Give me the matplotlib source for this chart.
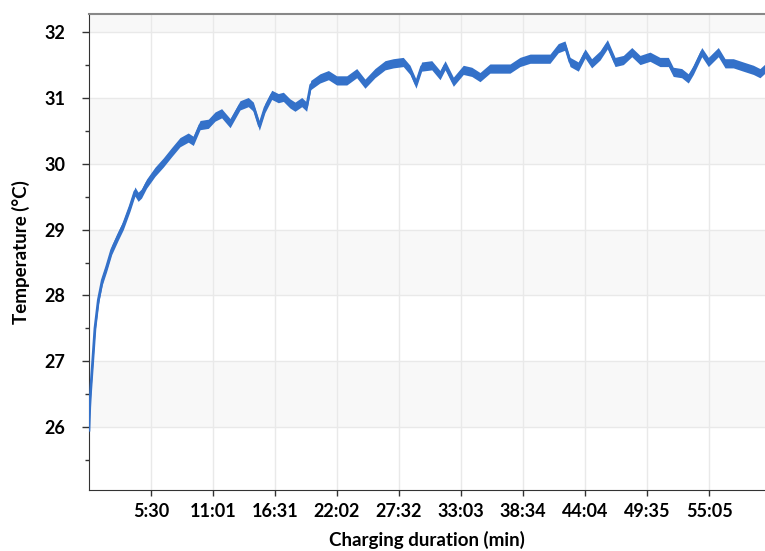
import numpy as np
import matplotlib.pyplot as plt
from matplotlib.ticker import MultipleLocator

# temperature trace (seconds, deg C)
time_s = [0, 4, 9, 20, 32, 50, 71, 94, 121, 156,
          183, 219, 245, 262, 280, 307, 352, 396, 441, 485,
          529, 556, 592, 636, 672, 707, 752, 805, 849, 876,
          908, 938, 974, 1009, 1036, 1071, 1098, 1134, 1160, 1182,
          1231, 1276, 1320, 1374, 1427, 1471, 1524, 1578, 1622, 1675,
          1711, 1743, 1773, 1827, 1871, 1898, 1942, 1995, 2040, 2084,
          2137, 2191, 2244, 2297, 2351, 2404, 2457, 2501, 2537, 2564,
          2608, 2644, 2679, 2724, 2763, 2804, 2848, 2893, 2937, 2990,
          3043, 3088, 3114, 3159, 3194, 3221, 3266, 3301, 3354, 3390,
          3434, 3487, 3541, 3576, 3603]
temp_c = [25.95, 26.3, 26.55, 27.0, 27.5, 27.93, 28.23, 28.43, 28.69, 28.91,
          29.07, 29.35, 29.58, 29.5, 29.55, 29.7, 29.88, 30.02, 30.18, 30.33,
          30.4, 30.35, 30.59, 30.61, 30.72, 30.77, 30.62, 30.89, 30.94, 30.87,
          30.58, 30.85, 31.05, 31.0, 31.02, 30.92, 30.87, 30.94, 30.87, 31.2,
          31.3, 31.35, 31.27, 31.27, 31.38, 31.22, 31.38, 31.5, 31.53, 31.55,
          31.43, 31.22, 31.48, 31.5, 31.35, 31.5, 31.25, 31.43, 31.40, 31.32,
          31.45, 31.45, 31.45, 31.55, 31.6, 31.6, 31.6, 31.76, 31.8, 31.55,
          31.48, 31.68, 31.53, 31.65, 31.82, 31.55, 31.58, 31.7, 31.58, 31.63,
          31.55, 31.55, 31.40, 31.38, 31.3, 31.43, 31.7, 31.55, 31.7, 31.53,
          31.53, 31.48, 31.43, 31.38, 31.45]

tick_labels = ['5:30', '11:01', '16:31', '22:02', '27:32',
               '33:03', '38:34', '44:04', '49:35', '55:05']
tick_step = 330.5
y_ticks = [26, 27, 28, 29, 30, 31, 32]
noise_band = 0.07  # half height of the sensor noise band, deg C

font = 'Lato'
blue = '#3471c9'

fig = plt.figure(figsize=(7.65, 5.51), dpi=100)
ax = fig.add_axes([0.1163, 0.1107, 0.8837, 0.8639])

ax.set_xlim(0, 3603)
ax.set_ylim(25.04, 32.28)

# alternating shaded bands
for lo in [26, 28, 30, 32]:
    ax.axhspan(lo, lo + 1, color='#f8f8f8', zorder=0, lw=0)

xt = [tick_step * (i + 1) for i in range(len(tick_labels))]
ax.set_xticks(xt)
ax.set_xticklabels(tick_labels)
ax.set_yticks(y_ticks)
ax.yaxis.set_minor_locator(MultipleLocator(0.5))
ax.grid(True, color='#e9e9e9', lw=1, zorder=0.5)
ax.set_axisbelow(True)

t = np.array(time_s)
T = np.array(temp_c)
ax.fill_between(t, T - noise_band, T + noise_band, color=blue, lw=0, zorder=3)
ax.plot(t, T, color=blue, lw=2, solid_joinstyle='round', zorder=3)

for lab in ax.get_xticklabels() + ax.get_yticklabels():
    lab.set_fontfamily(font)
    lab.set_fontweight('bold')
    lab.set_fontsize(13)

ax.tick_params(axis='y', which='major', length=5, width=1, color='#333333', pad=12)
ax.tick_params(axis='y', which='minor', length=3, width=1, color='#333333')
ax.tick_params(axis='x', which='major', length=4, width=1, color='#333333', pad=5)

ax.set_xlabel('Charging duration (min)', fontfamily=font, fontweight='bold', fontsize=13.5, labelpad=8)
ax.set_ylabel('Temperature (°C)', fontfamily=font, fontweight='bold', fontsize=13.5, labelpad=10)

ax.spines['right'].set_visible(False)
ax.spines['left'].set_color('#333333')
ax.spines['bottom'].set_color('#333333')
ax.spines['top'].set_color('#888888')
ax.spines['top'].set_linewidth(1.5)

fig.savefig('out.png', dpi=100)
